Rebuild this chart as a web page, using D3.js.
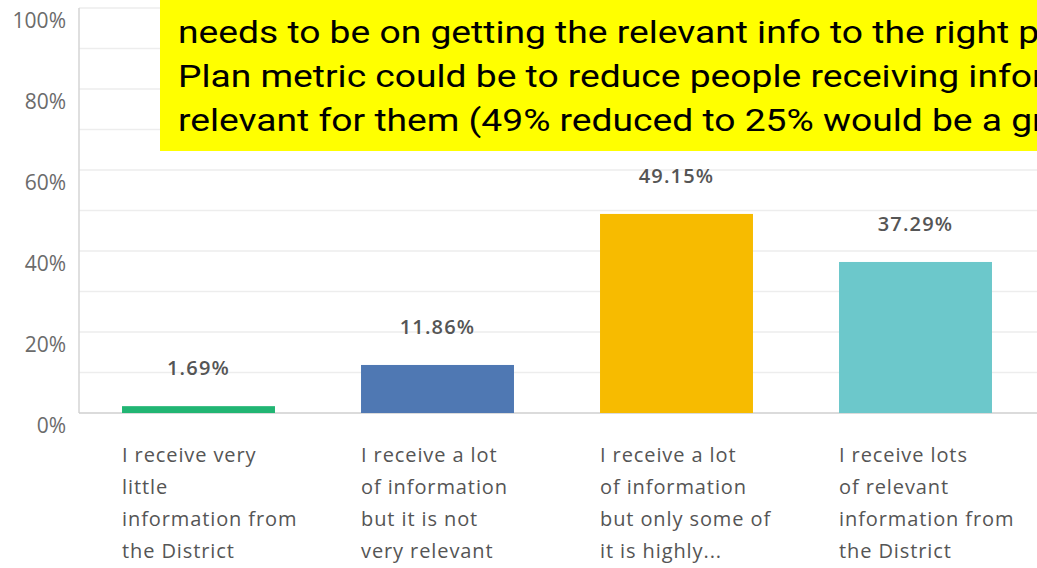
<!DOCTYPE html>
<html>
<head>
<meta charset="utf-8">
<script src="https://cdn.jsdelivr.net/npm/d3@7/dist/d3.min.js"></script>
<style>
  html, body { margin: 0; padding: 0; background: #fff; }
  svg { display: block; }
</style>
</head>
<body>
<svg id="chart" width="1037" height="568"></svg>
<script>
// Survey responses: how much relevant information people receive
const categories = [
  ["I receive very", "little", "information from", "the District"],
  ["I receive a lot", "of information", "but it is not", "very relevant"],
  ["I receive a lot", "of information", "but only some of", "it is highly..."],
  ["I receive lots", "of relevant", "information from", "the District"]
];
const values = [1.69, 11.86, 49.15, 37.29];
const barColors = ["#21b573", "#4f78b3", "#f7bb00", "#6cc8cb"];
const yTicks = [0, 20, 40, 60, 80, 100];
const gridTicks = [10, 20, 30, 40, 50, 60, 70, 80, 90, 100];
const noteLines = [
  "needs to be on getting the relevant info to the right people.",
  "Plan metric could be to reduce people receiving information not",
  "relevant for them (49% reduced to 25% would be a great goal)."
];

const svg = d3.select("#chart");
const W = 1037, H = 568;
const x0 = 79, x1 = 1035, yBase = 413, yTop = 8;

const x = d3.scaleBand()
  .domain(d3.range(values.length))
  .range([x0, x1])
  .paddingInner(0.36)
  .paddingOuter(0.18);

const y = d3.scaleLinear().domain([0, 100]).range([yBase, yTop]);

// grid lines
svg.append("g").selectAll("line")
  .data(gridTicks)
  .join("line")
  .attr("x1", x0).attr("x2", W)
  .attr("y1", d => y(d)).attr("y2", d => y(d))
  .attr("stroke", "#ededed").attr("stroke-width", 1.5);

// y axis labels
const yAxis = d3.axisLeft(y).tickValues(yTicks).tickFormat(d => d + "%").tickSize(0).tickPadding(13);
const gy = svg.append("g").attr("transform", `translate(${x0},0)`).call(yAxis);
gy.select(".domain").remove();
gy.selectAll("text")
  .attr("dy", "0.95em")
  .attr("font-family", "'Open Sans', sans-serif")
  .attr("font-size", 21)
  .attr("fill", "#6b6b6b");

// axis lines
svg.append("line").attr("x1", x0).attr("x2", x0).attr("y1", yTop).attr("y2", yBase)
  .attr("stroke", "#d4d4d4").attr("stroke-width", 1.5);
svg.append("line").attr("x1", x0).attr("x2", W).attr("y1", yBase).attr("y2", yBase)
  .attr("stroke", "#cfcfcf").attr("stroke-width", 1.5);

// bars
svg.append("g").selectAll("rect")
  .data(values)
  .join("rect")
  .attr("x", (d, i) => x(i))
  .attr("width", x.bandwidth())
  .attr("y", d => y(d))
  .attr("height", d => yBase - y(d))
  .attr("fill", (d, i) => barColors[i]);

// value labels
svg.append("g").selectAll("text")
  .data(values)
  .join("text")
  .attr("x", (d, i) => x(i) + x.bandwidth() / 2)
  .attr("y", d => y(d) - 31)
  .attr("text-anchor", "middle")
  .attr("font-family", "'Open Sans', sans-serif")
  .attr("font-weight", 600)
  .attr("font-size", 20)
  .attr("letter-spacing", 1.2)
  .attr("fill", "#555")
  .text(d => d.toFixed(2) + "%");

// category labels
const cat = svg.append("g").selectAll("text")
  .data(categories)
  .join("text")
  .attr("x", (d, i) => x(i))
  .attr("y", 462)
  .attr("font-family", "'Open Sans', sans-serif")
  .attr("font-size", 20)
  .attr("letter-spacing", 0.9)
  .attr("fill", "#555");
cat.selectAll("tspan")
  .data(d => d)
  .join("tspan")
  .attr("x", function () { return d3.select(this.parentNode).attr("x"); })
  .attr("dy", (d, j) => j === 0 ? 0 : 32)
  .text(d => d);

// highlighted note, set in a horizontally widened face
const note = svg.append("g");
note.append("rect")
  .attr("x", 160).attr("y", 0)
  .attr("width", W - 160).attr("height", 151)
  .attr("fill", "#ffff00");
note.selectAll("text")
  .data(noteLines)
  .join("text")
  .attr("transform", (d, i) => `translate(178,${43 + i * 44}) scale(1.2,1)`)
  .attr("font-family", "Roboto, sans-serif")
  .attr("font-size", 31)
  .attr("fill", "#000")
  .text(d => d);
</script>
</body>
</html>
